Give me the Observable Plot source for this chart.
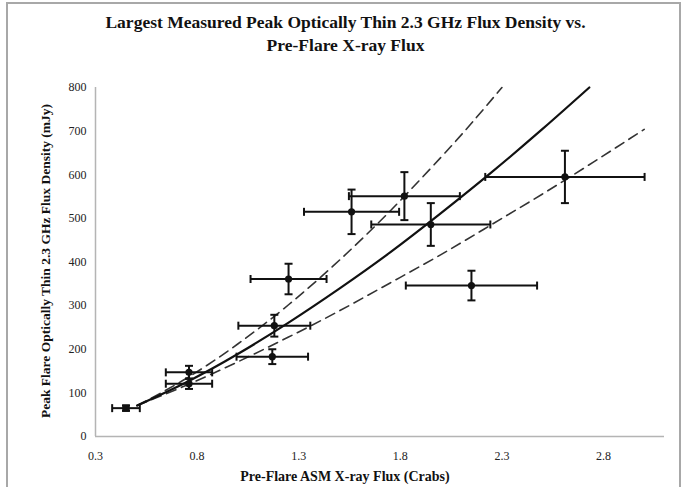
<!DOCTYPE html>
<html>
<head>
<meta charset="utf-8">
<script src="https://cdn.jsdelivr.net/npm/d3@7"></script>
<script src="https://cdn.jsdelivr.net/npm/@observablehq/plot@0.6"></script>
<style>
  body { margin: 0; background: #fff; }
  #wrap { position: relative; width: 691px; height: 487px; overflow: hidden; font-family: "Liberation Serif", "Times New Roman", serif; }
  #frame { position: absolute; left: 6px; top: 2px; width: 675px; height: 520px; border: 2px solid #a8a8a8; box-sizing: border-box; }
  #title { position: absolute; left: 0; top: 11px; width: 691px; text-align: center; font-weight: bold; font-size: 17.5px; line-height: 23px; color: #111; }
  #chart { position: absolute; left: 0; top: 0; }
</style>
</head>
<body>
<div id="wrap">
  <div id="frame"></div>
  <div id="chart"></div>
  <div id="title">Largest Measured Peak Optically Thin 2.3 GHz Flux Density vs.<br>Pre-Flare X-ray Flux</div>
</div>
<script>
// Pre-flare ASM X-ray flux (Crabs) and peak optically thin 2.3 GHz flux density (mJy)
const xrayFlux   = [0.45, 0.76, 0.76, 1.17, 1.18, 1.25, 1.56, 1.82, 1.95, 2.15, 2.61];
const peakFlux   = [65, 147, 121, 183, 254, 361, 515, 551, 486, 346, 595];
const xrayErr    = [0.068, 0.114, 0.114, 0.176, 0.177, 0.187, 0.234, 0.273, 0.293, 0.323, 0.392];
const peakErr    = [6, 15, 12, 17, 25, 35, 51, 55, 49, 34, 60];

// Best-fit relation and its upper / lower bounds, traced along x
const fitX      = [0.505, 0.75, 1.0, 1.25, 1.5, 1.75, 2.0, 2.25, 2.5, 2.73];
const fitY      = [71, 125, 189, 261, 339, 422, 512, 606, 705, 800];
const upperX    = [0.505, 0.75, 1.0, 1.25, 1.5, 1.75, 2.0, 2.15, 2.3];
const upperY    = [71, 134, 212, 302, 404, 517, 640, 718, 800];
const lowerX    = [0.505, 0.75, 1.0, 1.25, 1.5, 1.75, 2.0, 2.25, 2.5, 2.75, 3.0];
const lowerY    = [71, 118, 171, 228, 288, 352, 417, 486, 556, 629, 704];

// Axis ticks
const xTicks = [0.3, 0.8, 1.3, 1.8, 2.3, 2.8];
const yTicks = [0, 100, 200, 300, 400, 500, 600, 700, 800];

const points = xrayFlux.map((x, i) => ({x, y: peakFlux[i], xe: xrayErr[i], ye: peakErr[i], first: i === 0}));
const fit   = fitX.map((x, i) => ({x, y: fitY[i]}));
const upper = upperX.map((x, i) => ({x, y: upperY[i]}));
const lower = lowerX.map((x, i) => ({x, y: lowerY[i]}));

// Error bar caps as custom symbols
const capV = {draw(ctx, size) { const r = Math.sqrt(size / Math.PI); ctx.moveTo(0, -r); ctx.lineTo(0, r); }};
const capH = {draw(ctx, size) { const r = Math.sqrt(size / Math.PI); ctx.moveTo(-r, 0); ctx.lineTo(r, 0); }};

const axisColor = "#b4b4b4";
const ink = "#111";

const chart = Plot.plot({
  width: 691,
  height: 487,
  marginLeft: 95,
  marginRight: 27,
  marginTop: 87,
  marginBottom: 51,
  style: {fontFamily: "'Liberation Serif', 'Times New Roman', serif", background: "transparent", color: "#222"},
  x: {domain: [0.3, 3.1], label: null},
  y: {domain: [0, 800], label: null},
  marks: [
    Plot.ruleY([0], {stroke: axisColor, strokeWidth: 1.5}),
    Plot.ruleX([0.3], {stroke: axisColor, strokeWidth: 1.5}),
    Plot.axisX(xTicks, {tickSize: 0, tickPadding: 15, tickFormat: d3.format(".1f"), fontSize: 12, label: null}),
    Plot.axisY(yTicks, {tickSize: 0, tickPadding: 9, fontSize: 12, label: null}),
    // fitted curves
    Plot.line(upper, {x: "x", y: "y", curve: "natural", stroke: "#333", strokeWidth: 1.6, strokeDasharray: "10,6"}),
    Plot.line(lower, {x: "x", y: "y", curve: "natural", stroke: "#333", strokeWidth: 1.6, strokeDasharray: "10,6"}),
    Plot.line(fit, {x: "x", y: "y", curve: "natural", stroke: ink, strokeWidth: 2.2}),
    // horizontal error bars
    Plot.link(points, {x1: d => d.x - d.xe, x2: d => d.x + d.xe, y1: "y", y2: "y", stroke: ink, strokeWidth: 2}),
    Plot.dot(points, {x: d => d.x - d.xe, y: "y", symbol: capV, r: 4, stroke: ink, strokeWidth: 2}),
    Plot.dot(points, {x: d => d.x + d.xe, y: "y", symbol: capV, r: 4, stroke: ink, strokeWidth: 2}),
    // vertical error bars
    Plot.link(points, {x1: "x", x2: "x", y1: d => d.y - d.ye, y2: d => d.y + d.ye, stroke: ink, strokeWidth: 2}),
    Plot.dot(points, {x: "x", y: d => d.y - d.ye, symbol: capH, r: 4, stroke: ink, strokeWidth: 2}),
    Plot.dot(points, {x: "x", y: d => d.y + d.ye, symbol: capH, r: 4, stroke: ink, strokeWidth: 2}),
    // markers
    Plot.dot(points.filter(d => !d.first), {x: "x", y: "y", r: 3.6, fill: ink, stroke: "none"}),
    Plot.dot(points.filter(d => d.first), {x: "x", y: "y", symbol: "square", r: 4.2, fill: ink, stroke: "none"})
  ]
});

document.getElementById("chart").appendChild(chart);

// Axis titles placed in the chart's own coordinate space
const svg = d3.select(chart);
svg.append("text")
  .attr("x", 345).attr("y", 481)
  .attr("text-anchor", "middle")
  .attr("font-weight", "bold").attr("font-size", 14).attr("fill", ink)
  .text("Pre-Flare ASM X-ray Flux (Crabs)");
svg.append("text")
  .attr("transform", "translate(50,261) rotate(-90)")
  .attr("text-anchor", "middle")
  .attr("font-weight", "bold").attr("font-size", 13.5).attr("fill", ink)
  .text("Peak Flare Optically Thin 2.3 GHz Flux Density (mJy)");
</script>
</body>
</html>
